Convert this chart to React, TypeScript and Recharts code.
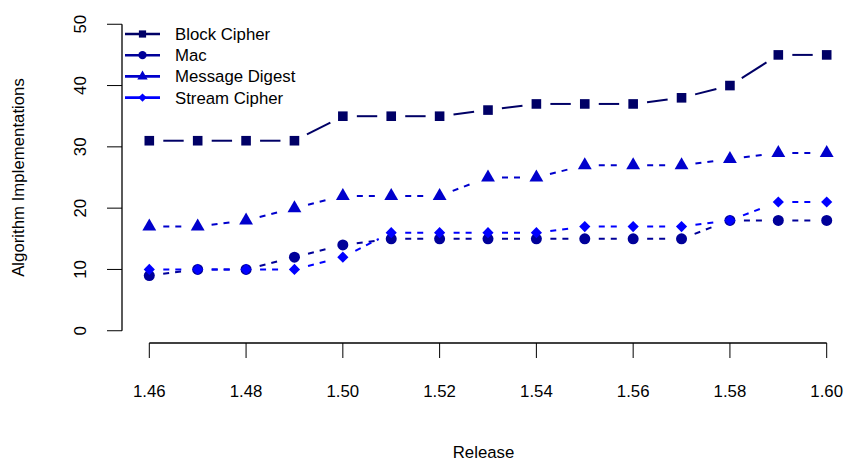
import React from "react";
import { LineChart, Line, XAxis, YAxis, ReferenceLine } from "recharts";

const releases = [1.46, 1.47, 1.48, 1.49, 1.5, 1.51, 1.52, 1.53, 1.54, 1.55, 1.56, 1.57, 1.58, 1.59, 1.6];
const blockCipher = [31, 31, 31, 31, 35, 35, 35, 36, 37, 37, 37, 38, 40, 45, 45];
const mac = [9, 10, 10, 12, 14, 15, 15, 15, 15, 15, 15, 15, 18, 18, 18];
const messageDigest = [17, 17, 18, 20, 22, 22, 22, 25, 25, 27, 27, 27, 28, 29, 29];
const streamCipher = [10, 10, 10, 10, 12, 16, 16, 16, 16, 17, 17, 17, 18, 21, 21];

const xTicks = [1.46, 1.48, 1.5, 1.52, 1.54, 1.56, 1.58, 1.6];
const yTicks = [0, 10, 20, 30, 40, 50];

type Marker = "square" | "circle" | "triangle" | "diamond";

const series: { key: string; name: string; color: string; marker: Marker; dash?: string }[] = [
  { key: "block", name: "Block Cipher", color: "#000066", marker: "square" },
  { key: "mac", name: "Mac", color: "#000099", marker: "circle", dash: "6 6" },
  { key: "digest", name: "Message Digest", color: "#0000CC", marker: "triangle", dash: "6 6" },
  { key: "stream", name: "Stream Cipher", color: "#0000FF", marker: "diamond", dash: "6 6" },
];

const data = releases.map((r, i) => ({
  release: r,
  block: blockCipher[i],
  mac: mac[i],
  digest: messageDigest[i],
  stream: streamCipher[i],
}));

const FONT = "'Liberation Sans', Arial, Helvetica, sans-serif";
const FS = 16.8;
const GAP = 14;

function markerShape(kind: Marker, cx: number, cy: number, color: string, s = 1) {
  if (kind === "square") {
    const h = 4.8 * s;
    return <rect x={cx - h} y={cy - h} width={2 * h} height={2 * h} fill={color} />;
  }
  if (kind === "circle") {
    return <circle cx={cx} cy={cy} r={5.5 * s} fill={color} />;
  }
  if (kind === "triangle") {
    const r = 8 * s;
    const xc = r * 0.866;
    return (
      <polygon
        points={`${cx},${cy - r} ${cx + xc},${cy + r / 2} ${cx - xc},${cy + r / 2}`}
        fill={color}
      />
    );
  }
  const d = 5.6 * s;
  return (
    <polygon points={`${cx},${cy - d} ${cx + d},${cy} ${cx},${cy + d} ${cx - d},${cy}`} fill={color} />
  );
}

function makeDot(s: (typeof series)[number]) {
  return (props: any) => {
    const { cx, cy, index, points } = props;
    const next = points && points[index + 1];
    let seg = null;
    if (next) {
      const dx = next.x - cx;
      const dy = next.y - cy;
      const len = Math.hypot(dx, dy);
      if (len > 2 * GAP) {
        const ux = dx / len;
        const uy = dy / len;
        seg = (
          <line
            x1={cx + ux * GAP}
            y1={cy + uy * GAP}
            x2={next.x - ux * GAP}
            y2={next.y - uy * GAP}
            stroke={s.color}
            strokeWidth={2}
            strokeDasharray={s.dash}
          />
        );
      }
    }
    return (
      <g key={`${s.key}-${index}`}>
        {seg}
        {markerShape(s.marker, cx, cy, s.color)}
      </g>
    );
  };
}

function YTick(props: any) {
  const { x, y, payload } = props;
  const cx = x - 25;
  return (
    <text
      x={cx}
      y={y}
      dy="0.36em"
      textAnchor="middle"
      transform={`rotate(-90, ${cx}, ${y})`}
      fontSize={FS}
      fontFamily={FONT}
      fill="#000"
    >
      {payload.value}
    </text>
  );
}

function LegendBox() {
  return (
    <svg width={300} height={110} style={{ position: "absolute", left: 0, top: 0 }}>
      {series.map((s, i) => {
        const y = 34 + i * 21.2;
        return (
          <g key={s.key}>
            <line x1={125} y1={y} x2={160} y2={y} stroke={s.color} strokeWidth={2.6} />
            {markerShape(s.marker, 142.5, y, s.color, 0.75)}
            <text x={175} y={y} dy="0.36em" fontSize={FS} fontFamily={FONT} fill="#000">
              {s.name}
            </text>
          </g>
        );
      })}
    </svg>
  );
}

const xMin = 1.454358;
const xMax = 1.603782;

export default function App() {
  return (
    <div style={{ position: "absolute", left: 0, top: 0, width: 845, height: 461, background: "#fff" }}>
      <LineChart width={845} height={461} data={data} margin={{ top: 12, right: 0, bottom: 0, left: 0 }}>
        <XAxis
          dataKey="release"
          type="number"
          domain={[xMin, xMax]}
          allowDataOverflow
          ticks={xTicks}
          tickFormatter={(v: number) => v.toFixed(2)}
          height={118}
          axisLine={false}
          tickSize={15}
          tickMargin={27}
          tickLine={{ stroke: "#000", strokeWidth: 1 }}
          tick={{ fill: "#000", fontSize: FS, fontFamily: FONT }}
          label={{
            value: "Release",
            position: "insideBottom",
            offset: 3,
            fill: "#000",
            fontSize: FS,
            fontFamily: FONT,
          }}
        />
        <YAxis
          type="number"
          domain={[-2, 52]}
          allowDataOverflow
          ticks={yTicks}
          width={122}
          axisLine={false}
          tickSize={15}
          tickMargin={2}
          tickLine={{ stroke: "#000", strokeWidth: 1 }}
          tick={<YTick />}
          label={{
            content: (p: any) => {
              const vb = p.viewBox || { x: 0, y: 12, width: 122, height: 331 };
              const cx = vb.x + 18;
              const cy = vb.y + vb.height / 2;
              return (
                <text
                  x={cx}
                  y={cy}
                  dy="0.36em"
                  textAnchor="middle"
                  transform={`rotate(-90, ${cx}, ${cy})`}
                  fontSize={FS}
                  fontFamily={FONT}
                  fill="#000"
                >
                  Algorithm Implementations
                </text>
              );
            },
          }}
        />
        <ReferenceLine
          segment={[
            { x: xTicks[0], y: -2 },
            { x: xTicks[xTicks.length - 1], y: -2 },
          ]}
          stroke="#000"
          strokeWidth={1.3}
          ifOverflow="visible"
        />
        <ReferenceLine
          segment={[
            { x: xMin, y: yTicks[0] },
            { x: xMin, y: yTicks[yTicks.length - 1] },
          ]}
          stroke="#000"
          strokeWidth={1.3}
          ifOverflow="visible"
        />
        {series.map((s) => (
          <Line
            key={s.key}
            dataKey={s.key}
            name={s.name}
            stroke="none"
            strokeWidth={0}
            dot={makeDot(s)}
            activeDot={false}
            isAnimationActive={false}
          />
        ))}
      </LineChart>
      <LegendBox />
    </div>
  );
}
